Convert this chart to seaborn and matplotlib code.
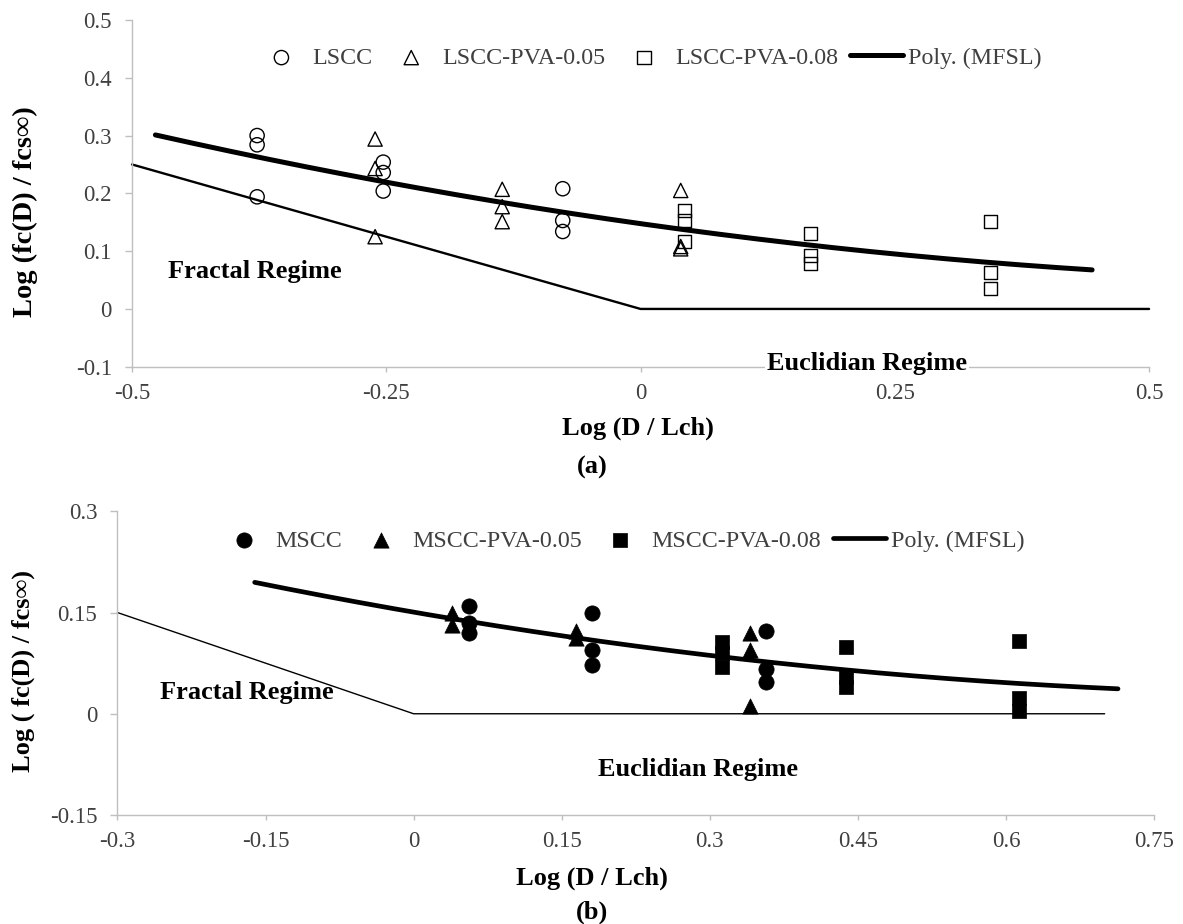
import numpy as np
import pandas as pd
import matplotlib
matplotlib.use("Agg")
import matplotlib.pyplot as plt
import seaborn as sns

# ---------------- data : panel (a) ----------------
lscc_x = [-0.377, -0.377, -0.377, -0.253, -0.253, -0.253, -0.0765, -0.0765, -0.0765]
lscc_y = [0.300, 0.284, 0.194, 0.254, 0.236, 0.204, 0.208, 0.153, 0.134]
lpva05_x = [-0.261, -0.261, -0.261, -0.136, -0.136, -0.136, 0.0395, 0.0395, 0.0395]
lpva05_y = [0.294, 0.243, 0.125, 0.207, 0.177, 0.151, 0.205, 0.108, 0.104]
lpva08_x = [0.043, 0.043, 0.043, 0.1675, 0.1675, 0.1675, 0.344, 0.344, 0.344]
lpva08_y = [0.170, 0.153, 0.116, 0.130, 0.093, 0.078, 0.151, 0.063, 0.036]
regime_a_x = [-0.5, 0.0, 0.5]
regime_a_y = [0.25, 0.0, 0.0]

# ---------------- data : panel (b) ----------------
mscc_x = [0.0557, 0.0557, 0.0557, 0.181, 0.181, 0.181, 0.357, 0.357, 0.357]
mscc_y = [0.160, 0.134, 0.119, 0.149, 0.094, 0.072, 0.123, 0.067, 0.047]
mpva05_x = [0.039, 0.039, 0.164, 0.164, 0.3405, 0.3405, 0.3405]
mpva05_y = [0.149, 0.131, 0.122, 0.112, 0.119, 0.094, 0.011]
mpva08_x = [0.3125, 0.3125, 0.3125, 0.4375, 0.4375, 0.4375, 0.6135, 0.6135, 0.6135]
mpva08_y = [0.107, 0.090, 0.070, 0.099, 0.054, 0.040, 0.108, 0.023, 0.004]
regime_b_x = [-0.3, 0.0, 0.7]
regime_b_y = [0.15, 0.0, 0.0]

# trendline forecast (Excel style) backward / forward
fore_a = (0.1, 0.1)
fore_b = (0.2, 0.1)

xticks_a = [-0.5, -0.25, 0, 0.25, 0.5]
xticklabels_a = ["-0.5", "-0.25", "0", "0.25", "0.5"]
yticks_a = [-0.1, 0, 0.1, 0.2, 0.3, 0.4, 0.5]
yticklabels_a = ["-0.1", "0", "0.1", "0.2", "0.3", "0.4", "0.5"]
xticks_b = [-0.3, -0.15, 0, 0.15, 0.3, 0.45, 0.6, 0.75]
xticklabels_b = ["-0.3", "-0.15", "0", "0.15", "0.3", "0.45", "0.6", "0.75"]
yticks_b = [-0.15, 0, 0.15, 0.3]
yticklabels_b = ["-0.15", "0", "0.15", "0.3"]

# ---------------- style ----------------
sns.set_theme(style="white")
plt.rcParams["font.family"] = ["Liberation Serif", "DejaVu Serif"]

AX_COL = "#bfbfbf"
TXT_COL = "#404040"
TICK_FS = 16.5
LEG_FS = 17.3
TITLE_FS = 19

fig = plt.figure(figsize=(11.83, 9.24), dpi=100)
ax1 = fig.add_axes([0.1116, 0.6031, 0.8597, 0.3753])
ax2 = fig.add_axes([0.0993, 0.1180, 0.8762, 0.3286])


def style_axes(ax, xt, xtl, yt, ytl, xlim, ylim):
    ax.set_xlim(*xlim)
    ax.set_ylim(*ylim)
    ax.set_xticks(xt)
    ax.set_xticklabels(xtl)
    ax.set_yticks(yt)
    ax.set_yticklabels(ytl)
    for s in ["top", "right"]:
        ax.spines[s].set_visible(False)
    for s in ["left", "bottom"]:
        ax.spines[s].set_color(AX_COL)
        ax.spines[s].set_linewidth(1.0)
    ax.tick_params(axis="x", direction="out", length=3.6, width=1.0, color=AX_COL,
                   labelsize=TICK_FS, labelcolor=TXT_COL, pad=8.0, bottom=True)
    ax.tick_params(axis="y", direction="out", length=5, width=1.0, color=AX_COL,
                   labelsize=TICK_FS, labelcolor=TXT_COL, pad=9.5, left=True)
    ax.grid(False)
    ax.set_xlabel("")
    ax.set_ylabel("")


def poly_trend(xs, ys, fore):
    xs = np.asarray(xs)
    ys = np.asarray(ys)
    c = np.polyfit(xs, ys, 2)
    xx = np.linspace(xs.min() - fore[0], xs.max() + fore[1], 200)
    return xx, np.polyval(c, xx)


MS = 105
# ---------------- panel (a) ----------------
ax1.plot(regime_a_x, regime_a_y, color="black", lw=1.7, zorder=2, clip_on=False)
sns.scatterplot(x=lscc_x, y=lscc_y, marker="o", s=MS, facecolors="none",
                edgecolor="black", linewidth=1.0, ax=ax1, label="LSCC", zorder=3)
sns.scatterplot(x=lpva05_x, y=lpva05_y, marker="^", s=MS, facecolors="none",
                edgecolor="black", linewidth=1.0, ax=ax1, label="LSCC-PVA-0.05", zorder=3)
sns.scatterplot(x=lpva08_x, y=lpva08_y, marker="s", s=MS * 0.85, facecolors="none",
                edgecolor="black", linewidth=1.0, ax=ax1, label="LSCC-PVA-0.08", zorder=3)
xa = lscc_x + lpva05_x + lpva08_x
ya = lscc_y + lpva05_y + lpva08_y
tx, ty = poly_trend(xa, ya, fore_a)
ax1.plot(tx, ty, color="black", lw=3.6, solid_capstyle="round", zorder=4, label="Poly. (MFSL)")

style_axes(ax1, xticks_a, xticklabels_a, yticks_a, yticklabels_a, (-0.5, 0.5), (-0.1, 0.5))
ax1.text(-0.379, 0.0646, "Fractal Regime", ha="center", va="center",
         fontsize=TITLE_FS, fontweight="bold", color="black")
ax1.text(0.2227, -0.095, "Euclidian Regime", ha="center", va="center",
         fontsize=TITLE_FS, fontweight="bold", color="black", clip_on=False, zorder=6,
         bbox=dict(facecolor="white", edgecolor="none", pad=1.5))

# ---------------- panel (b) ----------------
ax2.plot(regime_b_x, regime_b_y, color="black", lw=1.0, zorder=2, clip_on=False)
sns.scatterplot(x=mscc_x, y=mscc_y, marker="o", s=MS * 1.15, color="black",
                edgecolor="black", linewidth=0.5, ax=ax2, label="MSCC", zorder=3)
sns.scatterplot(x=mpva05_x, y=mpva05_y, marker="^", s=MS * 1.15, color="black",
                edgecolor="black", linewidth=0.5, ax=ax2, label="MSCC-PVA-0.05", zorder=3)
sns.scatterplot(x=mpva08_x, y=mpva08_y, marker="s", s=MS, color="black",
                edgecolor="black", linewidth=0.5, ax=ax2, label="MSCC-PVA-0.08", zorder=3)
xb = mscc_x + mpva05_x + mpva08_x
yb = mscc_y + mpva05_y + mpva08_y
tx, ty = poly_trend(xb, yb, fore_b)
ax2.plot(tx, ty, color="black", lw=3.4, solid_capstyle="round", zorder=4, label="Poly. (MFSL)")

style_axes(ax2, xticks_b, xticklabels_b, yticks_b, yticklabels_b, (-0.3, 0.75), (-0.15, 0.3))
ax2.text(-0.169, 0.032, "Fractal Regime", ha="center", va="center",
         fontsize=TITLE_FS, fontweight="bold", color="black")
ax2.text(0.288, -0.0827, "Euclidian Regime", ha="center", va="center",
         fontsize=TITLE_FS, fontweight="bold", color="black")

# ---------------- legends ----------------
W, H = 1183.0, 924.0
for ax, x0, y0 in [(ax1, 255, 58), (ax2, 218, 540.7)]:
    h, l = ax.get_legend_handles_labels()
    leg = ax.legend(h, l, loc="center left", bbox_to_anchor=(x0 / W, 1 - y0 / H),
                    bbox_transform=fig.transFigure, ncol=4, frameon=False,
                    borderpad=0, borderaxespad=0, handlelength=2.2,
                    handletextpad=0.2, columnspacing=0.5, fontsize=LEG_FS)
    for t in leg.get_texts():
        t.set_color(TXT_COL)

# ---------------- axis titles / captions ----------------
fig.text(25 / W, 1 - 212 / H, "Log (fc(D) / fcs∞)", rotation=90, ha="center", va="center",
         fontsize=20.5, fontweight="bold", color="black")
fig.text(23 / W, 1 - 671 / H, "Log ( fc(D) / fcs∞)", rotation=90, ha="center", va="center",
         fontsize=TITLE_FS, fontweight="bold", color="black")
fig.text(638 / W, 1 - 428 / H, "Log (D / Lch)", ha="center", va="center",
         fontsize=TITLE_FS, fontweight="bold", color="black")
fig.text(592 / W, 1 - 467 / H, "(a)", ha="center", va="center",
         fontsize=TITLE_FS, fontweight="bold", color="black")
fig.text(592 / W, 1 - 878 / H, "Log (D / Lch)", ha="center", va="center",
         fontsize=TITLE_FS, fontweight="bold", color="black")
fig.text(592 / W, 1 - 912 / H, "(b)", ha="center", va="center",
         fontsize=TITLE_FS, fontweight="bold", color="black")

fig.savefig("out.png", dpi=100, facecolor="white")
